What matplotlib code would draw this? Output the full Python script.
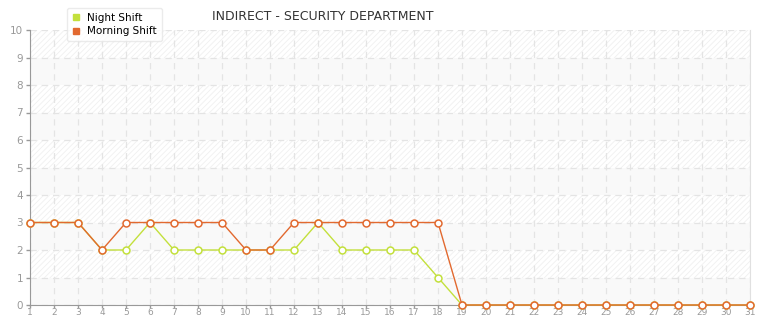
import numpy as np
import matplotlib.pyplot as plt
from matplotlib.patches import Rectangle

days = list(range(1, 32))
night_shift = [3, 3, 3, 2, 2, 3, 2, 2, 2, 2, 2, 2, 3, 2, 2, 2, 2, 1, 0, 0,
               0, 0, 0, 0, 0, 0, 0, 0, 0, 0, 0]
morning_shift = [3, 3, 3, 2, 3, 3, 3, 3, 3, 2, 2, 3, 3, 3, 3, 3, 3, 3, 0, 0,
                 0, 0, 0, 0, 0, 0, 0, 0, 0, 0, 0]
y_ticks = list(range(0, 11))

night_color = '#c3e03c'
morning_color = '#e2692f'

fig = plt.figure(figsize=(7.65, 3.2), dpi=100)
ax = fig.add_axes([30 / 765, 15 / 320, 720 / 765, 275 / 320])
ax.set_xlim(1, 31)
ax.set_ylim(0, 10)

# alternating background bands
plt.rcParams['hatch.color'] = '#efefef'
plt.rcParams['hatch.linewidth'] = 0.6
for i in range(10):
    if i % 2 == 0:
        ax.axhspan(i, i + 1, color='#f9f9f9', lw=0, zorder=0)
    else:
        ax.add_patch(Rectangle((1, i), 30, 1, facecolor='white', edgecolor='#f0f0f0',
                               hatch='//////', lw=0, zorder=0))

ax.grid(True, color='#e4e4e4', linestyle=(0, (5, 4)), linewidth=0.9, zorder=1)

ax.plot(days, night_shift, color=night_color, lw=1, marker='o', ms=5,
        mfc='white', mec=night_color, mew=1.1, clip_on=False, zorder=3,
        label='Night Shift')
ax.plot(days, morning_shift, color=morning_color, lw=1, marker='o', ms=5,
        mfc='white', mec=morning_color, mew=1.1, clip_on=False, zorder=4,
        label='Morning Shift')

ax.set_xticks(days)
ax.set_yticks(y_ticks)
ax.tick_params(colors='#999999', labelsize=7.5, length=3, width=1, pad=2)
ax.tick_params(axis='x', labelsize=6.5, length=2, pad=0.5)
ax.spines['top'].set_visible(False)
ax.spines['left'].set_color('#999999')
ax.spines['bottom'].set_color('#999999')
ax.spines['right'].set_color('#e0e0e0')

fig.text(323 / 765, 1 - 17 / 320, 'INDIRECT - SECURITY DEPARTMENT',
         ha='center', va='center', fontsize=9, color='#333333')

h1 = plt.Line2D([], [], color=night_color, marker='s', ms=4, lw=0)
h2 = plt.Line2D([], [], color=morning_color, marker='s', ms=4, lw=0)
leg = fig.legend([h1, h2], ['Night Shift', 'Morning Shift'],
                 loc='upper left', bbox_to_anchor=(64 / 765, 0.985),
                 fontsize=7.5, frameon=True, fancybox=True, shadow=False,
                 handlelength=0.8, handletextpad=0.6, labelspacing=0.3,
                 borderpad=0.5, borderaxespad=0.3, edgecolor='#e6e6e6')
leg.get_frame().set_facecolor('white')
leg.set_zorder(10)

fig.savefig('out.png', dpi=100)
